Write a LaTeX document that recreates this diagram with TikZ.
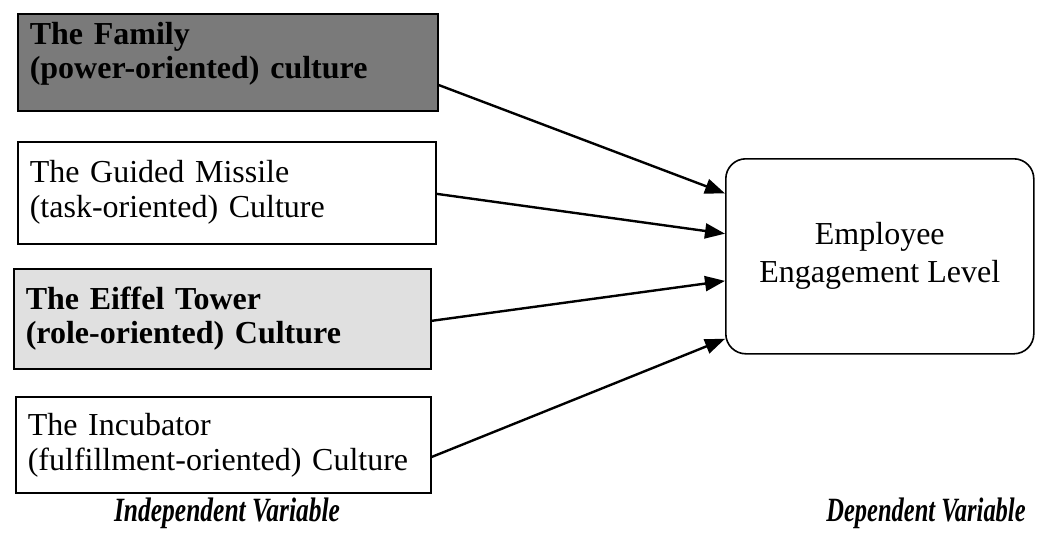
\documentclass[tikz,border=0pt]{standalone}
\usepackage{fontspec}
\setmainfont{Liberation Serif}
\usetikzlibrary{arrows.meta,calc}
\tikzset{
  ivbox/.style={draw=black, line width=1.6pt, anchor=north west, align=left,
    inner xsep=12pt, inner ysep=0pt, font=\fontsize{32}{35}\selectfont},
  dvbox/.style={draw=black, line width=1.6pt, rounded corners=20pt, anchor=north west,
    align=center, inner sep=0pt, font=\fontsize{32}{38}\selectfont},
  link/.style={line width=2.4pt, -{Triangle[length=20pt,width=15pt]}},
  caption/.style={font=\fontsize{34}{36}\selectfont\bfseries\itshape, anchor=center}
}
\begin{document}
\begin{tikzpicture}[x=1pt,y=-1pt]
\useasboundingbox (0,0) rectangle (1037,552);
\node[ivbox, fill=black!52, text width=396pt, minimum height=97pt, font=\fontsize{32}{34}\selectfont\bfseries] (b1) at (17,13)
  {The Family\\(power-oriented) culture\rule[-24pt]{0pt}{0pt}};
\node[ivbox, fill=white, text width=394pt, minimum height=102pt] (b2) at (17,141)
  {The Guided Missile\\(task-oriented) Culture\rule[-6pt]{0pt}{0pt}};
\node[ivbox, fill=black!12, text width=393pt, minimum height=100pt, font=\fontsize{32}{34}\selectfont\bfseries] (b3) at (13,268)
  {The Eiffel Tower\\(role-oriented) Culture};
\node[ivbox, fill=white, text width=391pt, minimum height=96pt] (b4) at (15,396)
  {The Incubator\\(fulfillment-oriented) Culture};
\node[dvbox, minimum width=308pt, minimum height=195pt] (dv) at (725,158)
  {Employee\\Engagement Level};
\draw[link] ($(b1.north east)!0.73!(b1.south east)$) -- ($(dv.north west)!0.18!(dv.south west)$);
\draw[link] ($(b2.north east)!0.51!(b2.south east)$) -- ($(dv.north west)!0.385!(dv.south west)$);
\draw[link] ($(b3.north east)!0.52!(b3.south east)$) -- ($(dv.north west)!0.625!(dv.south west)$);
\draw[link] ($(b4.north east)!0.625!(b4.south east)$) -- ($(dv.north west)!0.92!(dv.south west)$);
\node[caption] (iv) at (227,513) {\scalebox{0.75}[1]{Independent Variable}};
\node[caption] (dvl) at (926,513) {\scalebox{0.72}[1]{Dependent Variable}};
\end{tikzpicture}
\end{document}
